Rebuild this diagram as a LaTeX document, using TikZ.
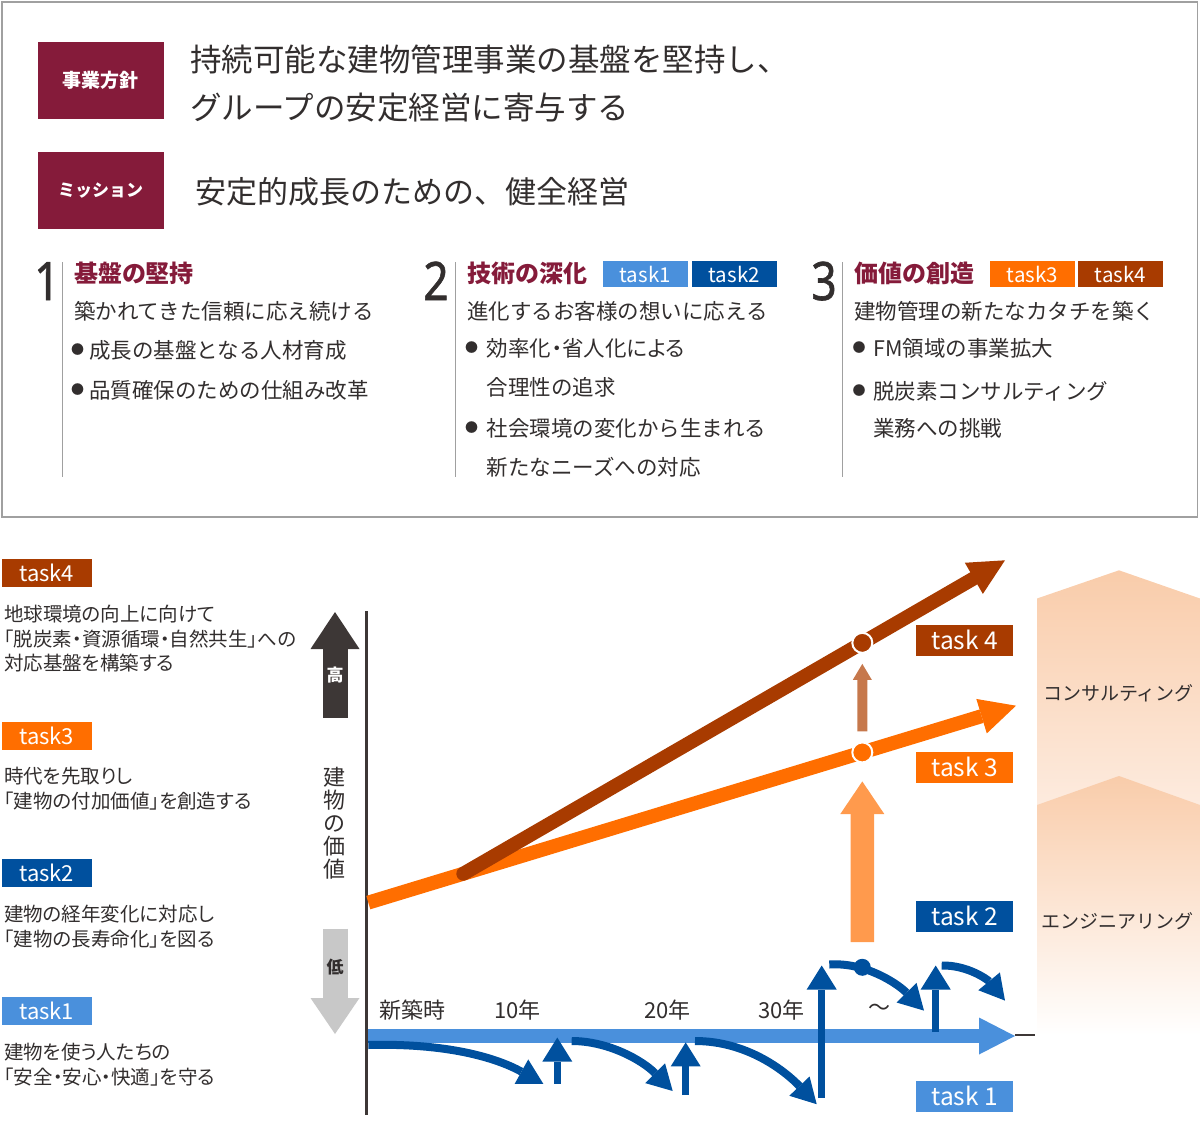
\documentclass[tikz,border=0pt]{standalone}
\usepackage{fontspec}
\setmainfont{Noto Sans CJK JP}
\newfontfamily\jpp[RawFeature=+palt]{Noto Sans CJK JP}
\newfontfamily\numfont[FakeBold=1.2]{Noto Sans}
\usetikzlibrary{arrows.meta,calc}

\definecolor{wine}{RGB}{133,27,58}
\definecolor{ink}{RGB}{50,46,46}
\definecolor{rulegray}{RGB}{160,160,160}
\definecolor{tone}{RGB}{74,144,220}
\definecolor{ttwo}{RGB}{0,80,158}
\definecolor{tthree}{RGB}{255,110,0}
\definecolor{tfour}{RGB}{168,59,0}
\definecolor{paleor}{RGB}{255,154,77}
\definecolor{rust}{RGB}{198,120,76}
\definecolor{peach}{RGB}{249,204,170}
\definecolor{peachlt}{RGB}{253,236,224}
\definecolor{axgray}{RGB}{61,55,54}
\definecolor{lowgray}{RGB}{200,200,200}

\newcommand\fsz[1]{\fontsize{#1}{#1}\selectfont}

\tikzset{
   txt/.style={anchor=west, inner sep=0, text=ink},
   desc/.style={txt, align=left, font=\jpp\fontsize{19.5}{24.5}\selectfont},
   dotmark/.style={inner sep=0, text=ink, font=\fsz{13}},
   numnode/.style={anchor=base, inner sep=0, text=ink, font=\numfont\fsz{53}, xscale=0.84, transform shape},
   headbox/.style={fill=wine, text=white, inner sep=0, minimum width=126pt, minimum height=77pt},
   tagbox/.style={fill=#1, text=white, inner sep=0, minimum width=85pt, minimum height=26pt, font=\fsz{20.5}},
   sidebox/.style={fill=#1, text=white, inner sep=0, minimum width=90pt, minimum height=28pt, font=\fsz{22}},
   chartbox/.style={fill=#1, text=white, inner sep=0, minimum width=97pt, minimum height=31pt, font=\fsz{24.5}},
   ring/.style={circle, fill=#1, draw=white, line width=2pt, minimum size=20pt, inner sep=0},
   bluecurve/.style={ttwo, line width=8pt, -{Triangle[width=28pt,length=25pt,line width=0pt]}},
   bluearr/.style={ttwo, line width=7pt, -{Triangle[width=30pt,length=24pt,line width=0pt]}}
}

\begin{document}
\begin{tikzpicture}[x=1pt, y=-1pt]
   \useasboundingbox (0,0) rectangle (1200,1135);

   % upper panel
   \draw[rulegray, line width=1.3pt] (2,2) rectangle (1197.5,517);
   \node[headbox, font=\fsz{19}\bfseries] (policy) at (100.5,80.5) {事業方針};
   \node[headbox, font=\fsz{17}\bfseries] (mission) at (100.5,190.5) {ミッション};
   \node[txt, font=\fsz{31.5}] (pol1) at (190,59.5) {持続可能な建物管理事業の基盤を堅持し、};
   \node[txt, font=\fsz{31.5}] (pol2) at (190,108) {グループの安定経営に寄与する};
   \node[txt, font=\fsz{31}] (mis) at (195,192) {安定的成長のための、健全経営};

   \foreach \n/\x/\dx/\ttl/\sub in {1/62.3/47/基盤の堅持/築かれてきた信頼に応え続ける,
         2/455.7/436/技術の深化/進化するお客様の想いに応える,
         3/842.7/824/価値の創造/建物管理の新たなカタチを築く} {
      \draw[rulegray, line width=1.2pt] (\x,262) -- (\x,477);
      \node[numnode] (num\n) at (\dx,300) {\n};
      \node[txt, text=wine, font=\fsz{24}\bfseries] (ttl\n) at ({\x+11.5},273) {\ttl};
      \node[txt, font=\fsz{21.5}] (sub\n) at ({\x+11.5},311) {\sub};
   }

   \node[tagbox=tone] (tg1) at (645.2,274) {task1};
   \node[tagbox=ttwo] (tg2) at (734.2,274) {task2};
   \node[tagbox=tthree] (tg3) at (1032.5,274) {task3};
   \node[tagbox=tfour] (tg4) at (1120.5,274) {task4};

   \node[dotmark] at (77.7,350) {●};
   \node[txt, font=\fsz{21.5}] (b11) at (89,350) {成長の基盤となる人材育成};
   \node[dotmark] at (77.7,390) {●};
   \node[txt, font=\fsz{21.5}] (b12) at (89,390) {品質確保のための仕組み改革};

   \node[dotmark] at (471.7,348) {●};
   \node[txt, font=\jpp\fsz{21.5}] (b21) at (486.7,348) {効率化・省人化による};
   \node[txt, font=\fsz{21.5}] (b21b) at (486.7,387) {合理性の追求};
   \node[dotmark] at (471.7,428) {●};
   \node[txt, font=\fsz{21.5}] (b22) at (486.7,428) {社会環境の変化から生まれる};
   \node[txt, font=\fsz{21.5}] (b22b) at (486.7,467) {新たなニーズへの対応};

   \node[dotmark] at (859,348) {●};
   \node[txt, font=\fsz{21.5}] (b31) at (873,348) {FM領域の事業拡大};
   \node[dotmark] at (859,391) {●};
   \node[txt, font=\fsz{21.5}] (b32) at (873,391) {脱炭素コンサルティング};
   \node[txt, font=\fsz{21.5}] (b32b) at (873,428) {業務への挑戦};

   % left legend
   \foreach \t/\c/\y in {4/tfour/573, 3/tthree/736, 2/ttwo/873, 1/tone/1011}
      \node[sidebox=\c] (side\t) at (46.7,\y) {task\t};
   \node[desc] (d4) at (4,639) {地球環境の向上に向けて\\「脱炭素・資源循環・自然共生」への\\対応基盤を構築する};
   \node[desc] (d3) at (4,788.8) {時代を先取りし\\「建物の付加価値」を創造する};
   \node[desc] (d2) at (4,926.8) {建物の経年変化に対応し\\「建物の長寿命化」を図る};
   \node[desc] (d1) at (4,1064.5) {建物を使う人たちの\\「安全・安心・快適」を守る};

   % value scale
   \draw[axgray, line width=25pt, -{Triangle[width=49pt,length=37pt,line width=0pt]}] (335,717.6) -- (335,612);
   \node[text=white, inner sep=0, font=\fsz{17}\bfseries] (high) at (335,675) {高};
   \draw[lowgray, line width=25pt, -{Triangle[width=49pt,length=36pt,line width=0pt]}] (335,928.5) -- (335,1034);
   \node[text=ink, inner sep=0, font=\fsz{17}\bfseries] (low) at (335,967) {低};
   \node[text=ink, inner sep=0, align=center, font=\fontsize{22}{23}\selectfont] (val) at (334.3,823) {建\\物\\の\\価\\値};

   % consulting / engineering bands
   \shade[top color=peach, bottom color=peachlt] (1037,598.5) -- (1119,570.3) -- (1200,598.5) -- (1200,812) -- (1037,812) -- cycle;
   \shade[top color=peach, middle color=peach!55!white, bottom color=white] (1037,805) -- (1119,776) -- (1200,805) -- (1200,1035) -- (1037,1035) -- cycle;
   \node[text=ink, font=\fsz{19}] (cons) at (1118.5,693.5) {コンサルティング};
   \node[text=ink, font=\fsz{19}] (engi) at (1117.5,921) {エンジニアリング};

   \draw[axgray, line width=2.5pt] (366.7,611) -- (366.7,1115);

   % task3 / task4 lines
   \coordinate (o0) at (368.3,902.6);
   \coordinate (o1) at (1016,705.7);
   \coordinate (r0) at ($(o0)!0.1467!(o1)$);
   \coordinate (r1) at (1005,560.3);
   \draw[tthree, line width=14pt, -{Triangle[width=36pt,length=36pt,line width=0pt]}] (o0) -- (o1);
   \draw[tfour, line width=14pt, line cap=round, -{Triangle[width=36pt,length=36pt,line width=0pt]}] (r0) -- (r1);
   \node[ring=tfour] (c4) at ($(r0)!0.7366!(r1)$) {};
   \node[ring=tthree] (c3) at ($(o0)!0.7627!(o1)$) {};
   \draw[rust, line width=10pt, shorten <=10pt, shorten >=10pt, -{Triangle[width=19pt,length=16pt,line width=0pt]}] (c3) -- (c4);

   % task1 / task2 line
   \draw[tone, line width=14pt, -{Triangle[width=37pt,length=36pt,line width=0pt]}] (367.5,1036) -- (1015,1036);
   \draw[axgray, line width=2pt] (1015,1035) -- (1034.5,1035);
   \draw[bluecurve] (368.3,1045) .. controls (445,1043) and (495,1057) .. (543.3,1083.8);
   \draw[bluecurve] (571.7,1041) .. controls (608,1041) and (642,1060) .. (672.7,1091);
   \draw[bluecurve] (695,1041) .. controls (748,1041) and (786,1072) .. (816.7,1104.2);
   \draw[bluecurve] (829.3,964.5) .. controls (866,962) and (898,984) .. (924,1010.6);
   \draw[bluecurve] (941.7,965.5) .. controls (968,965) and (988,980) .. (1005,1000.6);
   \foreach \x/\a/\b in {557.3/1083.8/1037.6, 685.7/1095/1042.4, 821.7/1098/965.5, 935.7/1032/965.5}
      \draw[bluearr] (\x,\a) -- (\x,\b);
   \node[circle, fill=ttwo, minimum size=17pt, inner sep=0] (dot) at (862.3,967.3) {};
   \draw[paleor, line width=23.6pt, shorten <=16.5pt, shorten >=18pt, -{Triangle[width=44pt,length=32.6pt,line width=0pt]}] (dot) -- (c3);

   % time axis labels
   \foreach \s/\x in {新築時/412, 10年/517.5, 20年/667.5, 30年/781.7, 〜/879.3}
      \node[text=ink, inner sep=0, font=\fsz{22}] at (\x,1010) {\s};

   \foreach \t/\c/\y in {4/tfour/640, 3/tthree/767, 2/ttwo/916, 1/tone/1096}
      \node[chartbox=\c] (lab\t) at (964.7,\y) {task \t};
\end{tikzpicture}
\end{document}
